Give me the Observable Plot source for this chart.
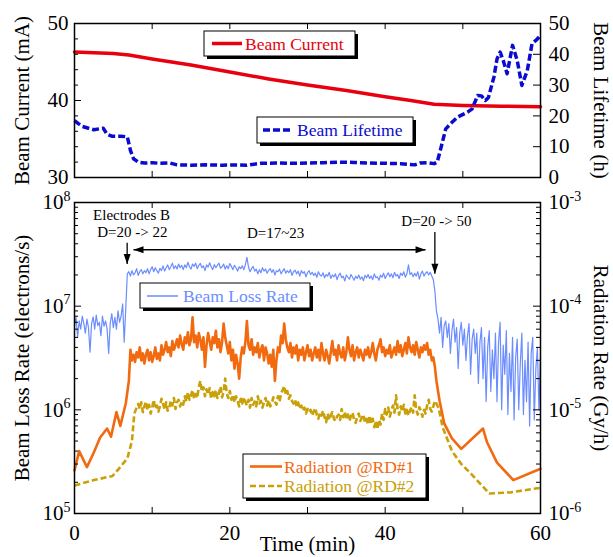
<!DOCTYPE html>
<html>
<head>
<meta charset="utf-8">
<script src="https://cdn.jsdelivr.net/npm/d3@7"></script>
<script src="https://cdn.jsdelivr.net/npm/@observablehq/plot@0.6"></script>
<style>
  html, body { margin: 0; padding: 0; background: white; }
  #chart { position: relative; width: 613px; height: 557px; overflow: hidden; }
  #chart svg { position: absolute; left: 0; top: 0; }
</style>
</head>
<body>
<div id="chart"></div>
<script>
// ---------------- DATA ----------------
// Top panel: beam current (mA)
const currentTime = [0, 5, 7, 10, 15, 20, 25, 30, 35, 40, 43.3, 46.3, 50, 55, 60];
const currentMA   = [46.3, 46.1, 45.9, 45.4, 44.6, 43.7, 42.8, 42.0, 41.3, 40.5, 40.0, 39.5, 39.35, 39.25, 39.2];

// Top panel: beam lifetime (h)
const lifetimeTime = [0,0.5,1.0,1.8,2.5,3.2,3.7,4.0,4.2,4.8,6.0,6.8,7.2,7.6,8.2,9,10,11,12.3,13.2,15,17,19,21,22.2,24,26,28,30,32,34,36,38,40,42,43.8,44.5,45.5,46.3,46.7,47.1,47.8,48.4,49.3,50.6,51.2,51.9,52.4,52.9,53.3,54.0,54.4,54.8,55.2,55.7,56.4,57.0,57.6,58.3,58.9,59.4,60];
const lifetimeH    = [18.5,17.5,16.6,16.0,15.5,15.8,16.0,14.8,14.0,13.4,13.4,13.2,8.8,6.1,5.0,4.7,4.8,4.6,4.7,4.1,4.0,4.1,4.0,4.1,4.0,4.6,4.7,4.6,4.7,4.8,5.0,4.9,4.7,4.6,4.5,4.1,4.7,4.8,4.5,5.0,8.8,15.8,17.4,19.6,21.2,22.3,26.6,26.5,25.0,26.0,32.6,38.5,40.7,38.0,33.7,42.9,38.0,29.9,34.7,43.4,44.5,46.1];

// Bottom panel: beam loss rate, in units of 1e6 electrons/s, sampled every 0.2 min from t = 0
const lossStart = 0, lossStep = 0.2;
const lossRate = [
  6.5,7.8,5.0,7.2,6.0,8.0,6.8,5.5,7.5,6.2,
  3.6,6.8,7.9,6.0,8.2,6.5,7.0,5.2,8.0,6.4,
  7.2,6.0,3.5,6.8,8.5,6.2,7.8,6.0,9.0,7.0,
  8.0,10.5,4.5,9.5,
  20.5,21.5,19.5,22.0,20.0,21.0,23.0,19.8,21.5,22.5,20.5,22.0,
  21.0,23.0,20.5,22.5,24.0,21.5,23.5,22.0,20.8,23.2,22.0,24.5,21.8,
  23.5,25.0,22.5,24.0,26.0,23.0,24.5,22.8,25.5,23.5,24.8,22.5,
  25.0,23.5,26.5,24.0,22.8,25.5,24.2,26.0,23.0,24.8,25.8,23.5,
  24.5,22.0,25.0,23.8,26.2,24.0,22.5,25.2,23.5,24.8,26.0,23.2,
  24.0,25.5,22.8,24.5,23.0,25.8,24.2,22.5,24.8,23.5,21.8,24.0,
  23.0,24.5,22.5,25.0,29.5,24.0,21.5,23.0,24.2,21.8,22.8,20.5,
  22.5,21.0,23.5,21.8,22.8,20.8,22.2,23.0,21.2,22.5,20.0,22.0,
  21.5,22.8,20.5,21.8,23.0,20.8,22.0,21.0,22.5,19.8,21.5,22.2,
  20.5,21.8,19.5,22.0,20.8,21.5,19.2,21.0,22.0,20.2,21.2,19.8,
  20.8,19.0,21.5,20.0,19.5,21.0,18.8,20.2,19.5,21.2,18.5,20.0,
  19.2,20.5,18.0,19.8,20.8,18.8,19.5,17.5,20.0,19.0,18.2,20.2,
  19.0,17.8,19.5,18.5,20.0,18.2,19.2,17.6,19.8,18.8,20.2,18.5,
  19.5,18.0,20.5,18.8,19.2,17.8,20.0,19.0,20.8,18.5,19.8,21.0,
  19.2,20.5,18.8,21.2,19.5,20.2,18.5,20.8,19.8,21.5,19.0,20.5,
  25.0,20.2,21.0,19.2,20.8,19.5,21.5,18.2,20.5,21.8,19.5,20.8,
  21.5,20.0,21.2,19.5,18.0,14.0,9.0,
  7.5,5.5,7.8,4.0,6.5,7.2,5.0,
  6.8,3.5,5.8,7.5,4.5,6.2,2.5,5.5,7.0,4.2,
  6.0,3.0,5.2,6.8,2.2,4.8,6.0,3.5,5.5,1.8,
  4.5,6.2,2.0,5.0,1.2,4.0,5.8,1.5,3.8,2.0,
  5.5,1.2,4.5,7.0,1.0,4.2,2.2,5.8,0.9,3.5,
  1.5,5.0,0.8,3.2,4.8,1.0,2.8,5.5,0.9,3.0,
  1.2,4.5,0.7,3.5,5.0,0.8,2.5,4.0,1.0,3.2
];

// Radiation @RD#1, in µGy/h (1e-6 Gy/h)
const rd1PreTime  = [0, 0.6, 1.6, 2.5, 3.3, 4.2, 4.7, 5.4, 5.9, 6.6, 7.0];
const rd1PreValue = [2.6, 4.0, 2.8, 3.9, 5.4, 6.6, 5.5, 9.5, 7.0, 11.5, 19];
const rd1MidStart = 7.2, midStep = 0.2;
const rd1Mid = [
  38,30,34,29,36,32,40,30,35,28,
  34,38,30,36,29,33,40,31,35,30,
  42,34,38,45,36,40,33,46,38,42,
  48,40,52,43,38,50,44,56,42,48,
  78,45,52,40,55,48,38,50,26,42,
  55,46,38,50,44,58,40,48,36,45,
  68,50,42,35,45,30,38,25,34,28,
  20,32,40,35,45,72,42,38,48,34,
  40,36,44,32,38,42,30,40,35,28,
  34,26,38,19,30,40,36,52,44,68,
  48,40,36,44,32,40,35,42,30,38,
  34,40,30,36,42,33,38,30,35,40,
  32,38,30,44,35,30,38,33,28,36,
  46,34,38,30,42,35,32,40,30,36,
  50,38,33,42,30,36,40,32,38,34,
  30,38,34,40,32,36,44,35,30,38,
  42,48,36,40,33,38,35,42,32,36,
  40,34,46,36,42,33,38,44,35,50,
  40,36,42,34,45,38,32,40,36,42,
  38,44,34,38,30,32,26
];
const rd1PostTime  = [46.6, 47.0, 47.6, 48.6, 49.8, 52.6, 53.1, 54.4, 56.5, 60];
const rd1PostValue = [19, 12.3, 7.4, 5.3, 4.2, 6.6, 4.9, 3.1, 2.1, 2.7];

// Radiation @RD#2, in µGy/h
const rd2PreTime  = [0, 2.5, 4.9, 5.7, 6.8, 7.4, 7.7, 8.0];
const rd2PreValue = [1.86, 2.1, 2.3, 2.7, 3.4, 5.0, 9.2, 10.5];
const rd2MidStart = 8.2;
const rd2Mid = [
  11.4,10.2,11.8,9.5,10.8,12.0,10.0,11.2,9.2,10.5,
  12.5,10.2,11.0,9.6,10.8,12.8,11.5,10.0,11.8,9.8,
  10.5,12.2,11.0,13.0,10.2,11.8,12.5,10.8,12.0,11.2,
  13.5,12.0,14.8,12.5,13.8,15.5,12.8,14.2,13.0,16.5,
  19.0,15.0,16.5,13.5,15.8,14.0,16.2,12.8,14.8,13.5,
  15.5,13.0,14.5,16.8,13.2,15.0,20.0,14.5,13.0,15.2,
  12.5,14.0,11.8,13.5,12.2,10.8,12.8,11.5,13.2,12.0,
  11.0,12.5,10.5,13.0,11.2,12.0,10.8,13.5,11.5,12.2,
  10.5,11.8,13.0,11.0,12.4,10.8,11.5,13.2,12.0,11.2,
  13.5,12.0,14.5,15.5,17.0,14.0,15.2,12.8,13.8,12.2,
  11.5,12.5,10.8,11.8,10.2,11.0,9.8,10.5,9.2,10.2,
  9.5,10.0,8.8,9.6,10.4,9.0,8.2,9.4,8.8,9.8,
  8.5,7.6,9.2,8.0,8.8,9.5,8.2,7.8,8.6,9.0,
  8.0,10.2,8.5,9.6,8.2,9.0,7.8,8.8,9.4,8.0,
  7.5,8.6,9.2,7.8,8.4,9.0,7.6,8.2,7.2,8.8,
  7.4,8.2,6.8,7.8,6.5,8.0,7.2,9.2,8.0,10.2,
  9.0,10.5,8.6,9.8,11.0,9.4,13.8,10.2,9.0,10.8,
  9.6,11.2,9.2,10.0,8.8,9.8,10.6,9.4,13.8,10.0,
  9.0,10.6,9.8,8.6,10.0,9.2,11.0,12.5,10.2,9.6,
  10.8,12.2,11.5
];
const rd2PostTime  = [46.9, 47.4, 48.6, 49.8, 51.1, 53.4, 56.2, 60];
const rd2PostValue = [10.3, 6.8, 4.0, 3.0, 2.4, 1.56, 1.6, 1.77];

// Axis ticks
const timeTicksLabeled = [0, 20, 40, 60];
const timeTicks = [10, 20, 30, 40, 50];
const currentTicks = [30, 40, 50];
const currentMinorTicks = [32, 34, 36, 38, 42, 44, 46, 48];
const lifetimeTicks = [0, 10, 20, 30, 40, 50];
const lossDecades = [1e5, 1e6, 1e7, 1e8];
const minorMultipliers = [2, 3, 4, 5, 6, 7, 8, 9];

// Annotations (bottom panel)
const annotationTexts = [
  {t: 7.35, v: 7.6e7, label: "Electrodes B"},
  {t: 7.45, v: 5.2e7, label: "D=20 -> 22"},
  {t: 25.9, v: 5.1e7, label: "D=17~23"},
  {t: 46.6, v: 6.6e7, label: "D=20 -> 50"}
];
const downArrows = [
  {t: 6.78, from: 4.1e7, to: 2.55e7},
  {t: 46.4, from: 5.2e7, to: 2.05e7}
];
const spanArrow = [{t1: 7.6, t2: 45.2, v: 3.5e7}];

// Labels & colours
const colors = {
  current: "#e8000f",
  lifetime: "#0a0ad0",
  loss: "#6b8dff",
  rd1: "#f26a10",
  rd2: "#c8a008"
};
const seriesNames = ["Beam Current", "Beam Lifetime", "Beam Loss Rate", "Radiation @RD#1", "Radiation @RD#2"];

// ---------------- HELPERS ----------------
const W = 613, H = 557;
const mL = 74, mR = 73;
const innerW = W - mL - mR;
const font = "'Liberation Serif', 'Times New Roman', serif";
const lifeToCurrent = h => 30 + h * 20 / 50;
const minorLog = lossDecades.slice(0, 3).flatMap(d => minorMultipliers.map(m => m * d));

const current = currentMA.map((v, i) => ({t: currentTime[i], v}));
const lifetime = lifetimeH.map((h, i) => ({t: lifetimeTime[i], v: lifeToCurrent(h)}));
const loss = lossRate.map((v, i) => ({t: lossStart + i * lossStep, v: v * 1e6}));
const toLossUnits = uGy => uGy * 1e5; // 1e-6 Gy/h <-> 1e5 electrons/s on the shared axis
const rd1 = [
  ...rd1PreTime.map((t, i) => ({t, v: toLossUnits(rd1PreValue[i])})),
  ...rd1Mid.map((u, i) => ({t: rd1MidStart + i * midStep, v: toLossUnits(u)})),
  ...rd1PostTime.map((t, i) => ({t, v: toLossUnits(rd1PostValue[i])}))
];
const rd2 = [
  ...rd2PreTime.map((t, i) => ({t, v: toLossUnits(rd2PreValue[i])})),
  ...rd2Mid.map((u, i) => ({t: rd2MidStart + i * midStep, v: toLossUnits(u)})),
  ...rd2PostTime.map((t, i) => ({t, v: toLossUnits(rd2PostValue[i])}))
];

const headDown = {draw(c) { c.moveTo(0, 0); c.lineTo(-3.5, -10); c.lineTo(3.5, -10); c.closePath(); }};
const headLeft = {draw(c) { c.moveTo(0, 0); c.lineTo(10, -3.5); c.lineTo(10, 3.5); c.closePath(); }};
const headRight = {draw(c) { c.moveTo(0, 0); c.lineTo(-10, -3.5); c.lineTo(-10, 3.5); c.closePath(); }};

function tickMarks(innerH, xMajor, yMajor, yMinor, yMajorR, yMinorR) {
  const k = 1;
  return [
    Plot.ruleX(xMajor, {x: d => d, insetTop: innerH - 6, stroke: "black", strokeWidth: k}),
    Plot.ruleX(xMajor, {x: d => d, insetBottom: innerH - 6, stroke: "black", strokeWidth: k}),
    Plot.ruleY(yMajor, {y: d => d, insetRight: innerW - 7, stroke: "black", strokeWidth: k}),
    Plot.ruleY(yMinor, {y: d => d, insetRight: innerW - 4, stroke: "black", strokeWidth: k}),
    Plot.ruleY(yMajorR, {y: d => d, insetLeft: innerW - 7, stroke: "black", strokeWidth: k}),
    Plot.ruleY(yMinorR, {y: d => d, insetLeft: innerW - 4, stroke: "black", strokeWidth: k})
  ];
}

function superscripts(svg) {
  d3.select(svg).selectAll("text").each(function() {
    const m = /^10\^(-?\d+)$/.exec(this.textContent);
    if (m) {
      const t = d3.select(this);
      t.text("10");
      t.append("tspan").attr("dy", "-0.62em").attr("font-size", "14px").text(m[1]);
    }
  });
}

const titleOpts = {text: d => d, fontSize: 21, fill: "black", textAnchor: "middle", lineAnchor: "middle"};

// ---------------- TOP PANEL ----------------
const topTop = 23, topBottom = 177;
const topPlot = Plot.plot({
  width: W, height: H,
  marginLeft: mL, marginRight: mR, marginTop: topTop, marginBottom: H - topBottom,
  style: {background: "transparent", fontFamily: font, fontSize: "21px", color: "black", overflow: "visible"},
  x: {domain: [0, 60], axis: null},
  y: {domain: [30, 50]},
  marks: [
    Plot.line(current, {x: "t", y: "v", stroke: colors.current, strokeWidth: 3.5}),
    Plot.line(lifetime, {x: "t", y: "v", stroke: colors.lifetime, strokeWidth: 3.5, strokeDasharray: "7,3", strokeLinecap: "butt"}),
    ...tickMarks(topBottom - topTop, timeTicks, currentTicks, currentMinorTicks,
                 lifetimeTicks.map(lifeToCurrent), []),
    Plot.axisY({anchor: "left", ticks: currentTicks, tickSize: 0, tickPadding: 6, label: null, fontSize: 21}),
    Plot.axisY({anchor: "right", ticks: lifetimeTicks.map(lifeToCurrent), tickSize: 0, tickPadding: 8, label: null, fontSize: 21,
                tickFormat: v => String(Math.round((v - 30) * 50 / 20))}),
    Plot.text(["Beam Current (mA)"], {...titleOpts, frameAnchor: "left", dx: -52, rotate: -90}),
    Plot.text(["Beam Lifetime (h)"], {...titleOpts, frameAnchor: "right", dx: 60, rotate: 90}),
    Plot.frame({stroke: "black", strokeWidth: 1.5})
  ]
});

// ---------------- BOTTOM PANEL ----------------
const botTop = 202, botBottom = 513;
const botPlot = Plot.plot({
  width: W, height: H,
  marginLeft: mL, marginRight: mR, marginTop: botTop, marginBottom: H - botBottom,
  style: {background: "transparent", fontFamily: font, fontSize: "21px", color: "black", overflow: "visible"},
  x: {domain: [0, 60]},
  y: {type: "log", domain: [1e5, 1e8]},
  marks: [
    Plot.line(loss, {x: "t", y: "v", stroke: colors.loss, strokeWidth: 1.2}),
    Plot.line(rd2, {x: "t", y: "v", stroke: colors.rd2, strokeWidth: 2.6, strokeDasharray: "6,3", strokeLinecap: "butt"}),
    Plot.line(rd1, {x: "t", y: "v", stroke: colors.rd1, strokeWidth: 2.6}),
    ...tickMarks(botBottom - botTop, timeTicks, lossDecades, minorLog, lossDecades, minorLog),
    Plot.axisX({ticks: timeTicksLabeled, tickSize: 0, tickPadding: 12, label: null, fontSize: 21}),
    Plot.axisY({anchor: "left", ticks: lossDecades, tickSize: 0, tickPadding: 4, label: null, fontSize: 21,
                tickFormat: v => "10^" + Math.round(Math.log10(v))}),
    Plot.axisY({anchor: "right", ticks: lossDecades, tickSize: 0, tickPadding: 8, label: null, fontSize: 21,
                tickFormat: v => "10^" + (Math.round(Math.log10(v)) - 11)}),
    Plot.text(["Beam Loss Rate (electrons/s)"], {...titleOpts, frameAnchor: "left", dx: -52, rotate: -90}),
    Plot.text(["Radiation Rate (Gy/h)"], {...titleOpts, frameAnchor: "right", dx: 60, rotate: 90}),
    Plot.text(["Time (min)"], {...titleOpts, frameAnchor: "bottom", dy: 31}),
    // annotations
    Plot.text(annotationTexts, {x: "t", y: "v", text: "label", fontSize: 15, fill: "black"}),
    Plot.link(downArrows, {x1: "t", x2: "t", y1: "from", y2: "to", stroke: "black", strokeWidth: 1.3}),
    Plot.dot(downArrows, {x: "t", y: "to", symbol: headDown, fill: "black", stroke: "none"}),
    Plot.link(spanArrow, {x1: "t1", x2: "t2", y1: "v", y2: "v", stroke: "black", strokeWidth: 1.3}),
    Plot.dot(spanArrow, {x: "t1", y: "v", symbol: headLeft, fill: "black", stroke: "none"}),
    Plot.dot(spanArrow, {x: "t2", y: "v", symbol: headRight, fill: "black", stroke: "none"}),
    Plot.frame({stroke: "black", strokeWidth: 1.5})
  ]
});
superscripts(botPlot);

// ---------------- LEGENDS (boxed, with drop shadow) ----------------
const legendBoxes = [
  {x: 204, y: 31, w: 151, h: 25, lineX: [8, 38], textX: 41, rows: [12.5], items: [{name: seriesNames[0], color: colors.current, width: 3.5, dash: null}]},
  {x: 257, y: 117, w: 156, h: 26, lineX: [6, 36], textX: 40, rows: [13], items: [{name: seriesNames[1], color: colors.lifetime, width: 3.5, dash: "7,3"}]},
  {x: 140, y: 283, w: 170, h: 25, lineX: [7, 38], textX: 43, rows: [13], items: [{name: seriesNames[2], color: colors.loss, width: 1.5, dash: null}]},
  {x: 243, y: 454, w: 183, h: 44, lineX: [7, 39], textX: 41, rows: [12.5, 32], items: [
    {name: seriesNames[3], color: colors.rd1, width: 2.6, dash: null},
    {name: seriesNames[4], color: colors.rd2, width: 2.6, dash: "6,3"}]}
];
const legendSvg = d3.create("svg").attr("width", W).attr("height", H)
  .style("font-family", font);
for (const b of legendBoxes) {
  const g = legendSvg.append("g");
  g.append("rect").attr("x", b.x + 3).attr("y", b.y + 3).attr("width", b.w).attr("height", b.h).attr("fill", "black");
  g.append("rect").attr("x", b.x).attr("y", b.y).attr("width", b.w).attr("height", b.h)
    .attr("fill", "white").attr("stroke", "black").attr("stroke-width", 1);
  b.items.forEach((it, i) => {
    const cy = b.y + b.rows[i];
    g.append("line").attr("x1", b.x + b.lineX[0]).attr("x2", b.x + b.lineX[1]).attr("y1", cy).attr("y2", cy)
      .attr("stroke", it.color).attr("stroke-width", it.width).attr("stroke-dasharray", it.dash);
    g.append("text").attr("x", b.x + b.textX).attr("y", cy).attr("dy", "0.35em")
      .attr("font-size", 17.5).attr("fill", it.color).text(it.name);
  });
}

const chart = document.getElementById("chart");
chart.appendChild(botPlot);
chart.appendChild(topPlot);
chart.appendChild(legendSvg.node());
</script>
</body>
</html>
